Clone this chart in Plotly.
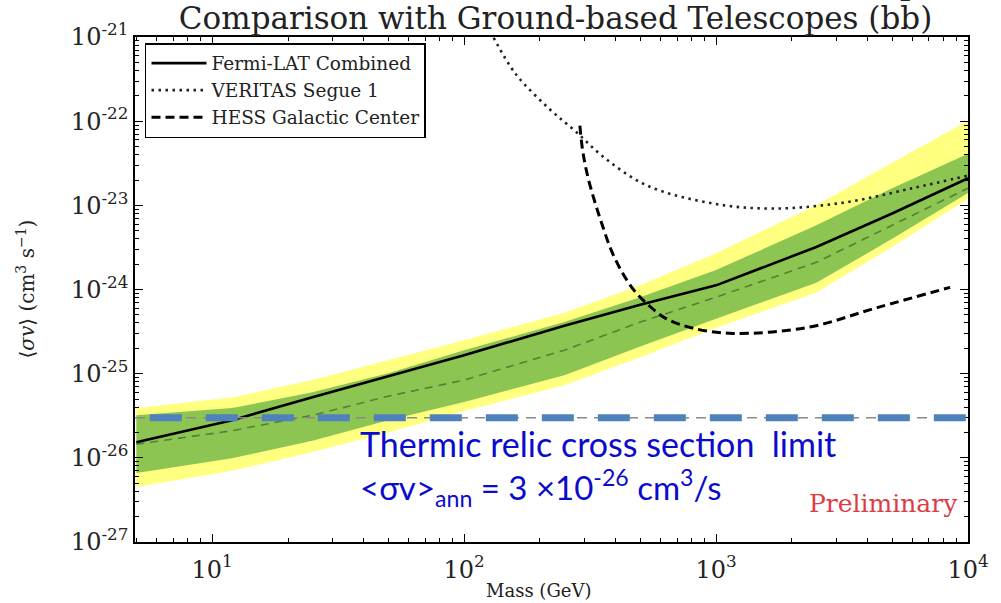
import plotly.graph_objects as go

# ---------------- data ----------------
mass = [5, 12, 25, 50, 100, 250, 500, 1000, 2500, 5000, 10000]
fermi_combined = [1.53e-26, 2.8e-26, 5.25e-26, 9.3e-26, 1.66e-25, 3.7e-25,
                  6.6e-25, 1.12e-24, 3.2e-24, 8.0e-24, 2.1e-23]
band2_upper = [3.9e-26, 5.2e-26, 8.4e-26, 1.44e-25, 2.5e-25, 5.3e-25,
               1.12e-24, 2.7e-24, 1.0e-23, 3.2e-23, 1.01e-22]
band1_upper = [3.2e-26, 3.9e-26, 6.0e-26, 1.01e-25, 1.9e-25, 4.1e-25,
               8.1e-25, 1.7e-24, 5.8e-24, 1.6e-23, 4.1e-23]
median_expected = [1.45e-26, 2.1e-26, 3.2e-26, 5.4e-26, 8.4e-26, 1.9e-25,
                   4.1e-25, 8.1e-25, 2.1e-24, 5.8e-24, 1.6e-23]
band1_lower = [6.6e-27, 9.9e-27, 1.6e-26, 2.8e-26, 4.6e-26, 9.6e-26,
               2.1e-25, 4.5e-25, 1.2e-24, 4.0e-24, 1.4e-23]
band2_lower = [4.5e-27, 7.0e-27, 1.17e-26, 2.0e-26, 3.6e-26, 7.3e-26,
               1.57e-25, 3.5e-25, 9.2e-25, 3.2e-24, 1.2e-23]

veritas_mass = [131, 160, 215, 275, 360, 532, 973, 1673, 3236, 5923, 10000]
veritas_sv = [9.8e-22, 3.66e-22, 1.45e-22, 7.7e-23, 3.69e-23, 1.72e-23,
              1.05e-23, 9.16e-24, 1.08e-23, 1.58e-23, 2.26e-23]

hess_mass = [288, 295.5, 309, 329, 354, 384, 424, 473, 541, 631, 812, 1166,
             2316, 4395, 8490]
hess_sv = [8.85e-23, 4.47e-23, 2.25e-23, 1.14e-23, 5.76e-24, 2.91e-24, 1.60e-24,
           9.75e-25, 6.47e-25, 4.54e-25, 3.46e-25, 3.01e-25, 3.55e-25, 6.14e-25,
           1.06e-24]

thermal_sv = 3e-26

x_tick_vals = [10, 100, 1000, 10000]
x_tick_text = ["10<sup>1</sup>", "10<sup>2</sup>", "10<sup>3</sup>", "10<sup>4</sup>"]
y_tick_vals = [1e-27, 1e-26, 1e-25, 1e-24, 1e-23, 1e-22, 1e-21]
y_tick_text = ["10<sup>-27</sup>", "10<sup>-26</sup>", "10<sup>-25</sup>", "10<sup>-24</sup>",
               "10<sup>-23</sup>", "10<sup>-22</sup>", "10<sup>-21</sup>"]
x_decades = [1, 10, 100, 1000]
y_decades = [1e-27, 1e-26, 1e-25, 1e-24, 1e-23, 1e-22]
minor_mult = [2, 3, 4, 5, 6, 7, 8, 9]

legend_names = ["Fermi-LAT Combined", "VERITAS Segue 1", "HESS Galactic Center"]

# ---------------- styling ----------------
YELLOW = "#ffff80"
GREEN = "#8dc553"
MEDIAN_GREEN = "#557f33"
BLUE_DASH = "#4f81bd"
BLUE_TEXT = "#0b0bcc"
SERIF = "DejaVu Serif"

x_minor = [d * m for d in x_decades for m in minor_mult]
y_minor = [d * m for d in y_decades for m in minor_mult]

fig = go.Figure()

# 2-sigma band
fig.add_trace(go.Scatter(x=mass, y=band2_upper, mode="lines", line=dict(width=0, color=YELLOW),
                         showlegend=False, hoverinfo="skip"))
fig.add_trace(go.Scatter(x=mass, y=band2_lower, mode="lines", line=dict(width=0, color=YELLOW),
                         fill="tonexty", fillcolor=YELLOW, showlegend=False, hoverinfo="skip"))
# 1-sigma band
fig.add_trace(go.Scatter(x=mass, y=band1_upper, mode="lines", line=dict(width=0, color=GREEN),
                         showlegend=False, hoverinfo="skip"))
fig.add_trace(go.Scatter(x=mass, y=band1_lower, mode="lines", line=dict(width=0, color=GREEN),
                         fill="tonexty", fillcolor=GREEN, showlegend=False, hoverinfo="skip"))
# median expected
fig.add_trace(go.Scatter(x=mass, y=median_expected, mode="lines",
                         line=dict(width=1.6, color=MEDIAN_GREEN, dash="8px,6px"),
                         showlegend=False, hoverinfo="skip"))

# limits
fig.add_trace(go.Scatter(x=mass, y=fermi_combined, mode="lines", name=legend_names[0],
                         line=dict(width=2.6, color="black")))
fig.add_trace(go.Scatter(x=veritas_mass, y=veritas_sv, mode="lines", name=legend_names[1],
                         line=dict(width=2.6, color="#222222", dash="2.5px,4.5px"),
                         line_shape="spline"))
fig.add_trace(go.Scatter(x=hess_mass, y=hess_sv, mode="lines", name=legend_names[2],
                         line=dict(width=3, color="black", dash="9px,5px"),
                         line_shape="spline"))

# thermal relic line: thin gray dashed (plot) + thick blue dashes (overlay)
fig.add_shape(type="line", xref="paper", yref="y", x0=0, x1=1, y0=thermal_sv, y1=thermal_sv,
              line=dict(color="#8a8a8a", width=1.5, dash="10px,7px"), layer="above")
fig.add_shape(type="line", xref="paper", yref="y", x0=0.0178, x1=1.0166,
              y0=thermal_sv, y1=thermal_sv,
              line=dict(color=BLUE_DASH, width=7, dash="32px,24px"), layer="above")

axis_common = dict(
    type="log", showgrid=False, zeroline=False,
    showline=True, linecolor="black", linewidth=1.5, mirror="allticks",
    ticks="inside", ticklen=8, tickwidth=1, tickcolor="black",
    tickmode="array",
    tickfont=dict(family=SERIF, size=24, color="#222222"),
)

fig.update_xaxes(range=[0.6937, 4.0], tickvals=x_tick_vals, ticktext=x_tick_text,
                 ticklabelstandoff=5,
                 minor=dict(tickmode="array", tickvals=x_minor, ticks="inside", ticklen=4,
                            tickcolor="black", tickwidth=1, showgrid=False),
                 **axis_common)
fig.update_yaxes(range=[-27, -21], tickvals=y_tick_vals, ticktext=y_tick_text,
                 minor=dict(tickmode="array", tickvals=y_minor, ticks="inside", ticklen=4,
                            tickcolor="black", tickwidth=1, showgrid=False),
                 **axis_common)

fig.update_layout(
    width=1001, height=603,
    margin=dict(l=135, r=23, t=37, b=61),
    paper_bgcolor="white", plot_bgcolor="white",
    title=dict(text="Comparison with Ground-based Telescopes (bb\u0304)",
               font=dict(family=SERIF, size=31, color="#222222"),
               x=0.555, xanchor="center", y=0.97, yanchor="middle"),
    showlegend=True,
    legend=dict(x=0.012, y=0.988, xanchor="left", yanchor="top",
                bgcolor="white", bordercolor="black", borderwidth=1.5,
                font=dict(family=SERIF, size=18.5, color="#222222"),
                traceorder="normal", itemwidth=55,
                tracegroupgap=0),
)

annotations = [
    dict(text="Mass (GeV)", xref="paper", yref="paper", x=0.484, y=-0.097,
         showarrow=False, font=dict(family=SERIF, size=18, color="#222222"),
         xanchor="center", yanchor="middle"),
    dict(text="\u27e8<i>\u03c3v</i>\u27e9 (cm<sup>3</sup> s<sup>\u22121</sup>)", xref="paper",
         yref="paper", x=-0.132, y=0.5, textangle=-90, showarrow=False,
         font=dict(family=SERIF, size=20, color="#222222"),
         xanchor="center", yanchor="middle"),
    dict(text=("<span style='font-size:34px'>Thermic relic cross section\u00a0 limit</span><br>"
               "<\u03c3v><sub>ann</sub> = 3 \u00d710<sup>-26</sup> cm<sup>3</sup>/s"),
         xref="paper", yref="paper", align="left",
         x=0.268, y=0.1475, showarrow=False, xanchor="left", yanchor="middle",
         font=dict(family="Lato", size=33, color=BLUE_TEXT)),
    dict(text="Preliminary", xref="paper", yref="paper", x=0.99, y=0.077,
         showarrow=False, xanchor="right", yanchor="middle",
         font=dict(family=SERIF, size=25, color="#dc3c46")),
]
fig.update_layout(annotations=annotations)

fig.write_html("out.html")
